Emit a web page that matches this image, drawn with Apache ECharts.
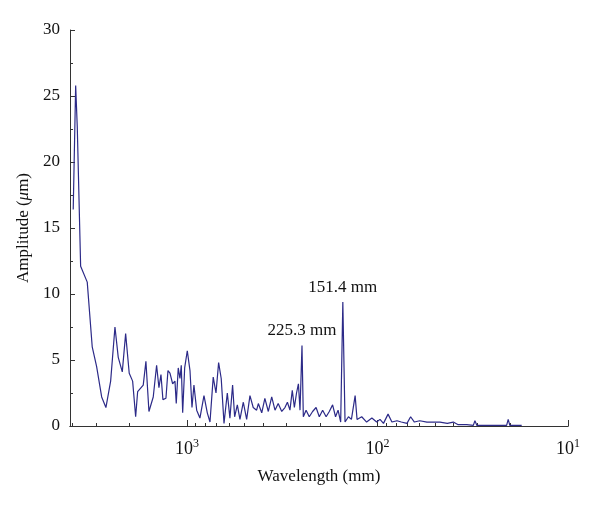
<!DOCTYPE html>
<html>
<head>
<meta charset="utf-8">
<script src="https://cdn.jsdelivr.net/npm/echarts@6/dist/echarts.min.js"></script>
<style>html,body{margin:0;padding:0;background:#fff}#container{width:600px;height:506px}</style>
</head>
<body>
<div id="container"></div>
<script>
// wavelength (mm) and amplitude (um)
var wavelength = [3953,3838,3765,3614,3337,3142,2979,2803,2663,2515,2387,2294,2185,2098,2009,1928,1859,1815,1696,1642,
    1583,1503,1443,1403,1369,1337,1289,1258,1228,1189,1156,1138,1111,1088,1071,1053,1028,996,964,941,
    919,889,855,814,782,757,728,704,682,661,639,614,595,576,562,544,527,506,486,467,
    449,431,422,405,390,374,359,345,332,318,306,297,288,280,273,266,260,255,249,245,
    237,228,219,210,202,194,186,179,172,166,161,156,152,148,142,137,131,128,121,114,
    107,101,97,93,88,84,79,75,70,67,64,60,55,51,47,43,40,37.7,34,31.4,
    30.8,30.1,25.7,21,20.6,20.2,17.5];
var amplitude = [16.4,25.8,22.7,12.1,10.9,6.0,4.5,2.2,1.4,3.4,7.5,5.2,4.1,7.0,4.0,3.4,0.7,2.6,3.1,4.9,
    1.1,2.2,4.6,2.9,3.9,2.0,2.1,4.2,4.0,3.2,3.4,1.7,4.4,3.6,4.6,1.0,4.4,5.7,4.2,1.4,
    3.1,1.2,0.6,2.3,1.0,0.3,3.7,2.5,4.8,3.6,0.2,2.5,0.6,3.1,0.7,1.6,0.5,1.8,0.5,2.3,
    1.4,1.2,1.7,1.0,2.1,1.1,2.2,1.2,1.7,1.1,1.4,1.8,1.2,2.7,1.4,2.5,3.2,1.2,6.1,0.7,
    1.2,0.7,1.1,1.4,0.7,1.2,0.7,1.1,1.6,0.7,1.2,0.3,9.4,0.3,0.7,0.5,2.3,0.5,0.7,0.3,
    0.6,0.3,0.5,0.2,0.9,0.3,0.4,0.3,0.2,0.7,0.3,0.4,0.3,0.3,0.3,0.2,0.3,0.1,0.1,0.05,
    0.4,0.05,0.05,0.05,0.5,0.05,0.05];
var peakLabels = [{wl: 249, amp: 6.1, text: '225.3 mm'}, {wl: 152, amp: 9.4, text: '151.4 mm'}];
var xMin = 10, xMax = 4110;

var lg = Math.log10;
var seriesData = wavelength.map(function (w, i) { return [lg(w), amplitude[i]]; });
var minorTicks = [];
for (var e = 1; e <= 3; e++) {
    for (var m = 2; m <= 9; m++) {
        var v = m * Math.pow(10, e);
        if (v < xMax) minorTicks.push(lg(v));
    }
}
var font = '"Liberation Serif", "DejaVu Serif", serif';
var txt = '#111';
var myChart = echarts.init(document.getElementById('container'));
var base = {
    type: 'value', min: lg(xMin), max: lg(xMax), inverse: true,
    splitLine: {show: false},
    axisLine: {lineStyle: {color: '#333', width: 1}}
};
option = {
    animation: false,
    grid: {left: 70, right: 32, top: 30, bottom: 80},
    xAxis: [
        Object.assign({}, base, {
            interval: 1,
            name: 'Wavelength (mm)', nameLocation: 'middle', nameGap: 42,
            nameTextStyle: {fontFamily: font, fontSize: 17, color: txt},
            axisTick: {inside: true, length: 6, lineStyle: {color: '#333'}},
            axisLabel: {
                showMaxLabel: false, margin: 12,
                formatter: function (v) { return '{b|10}{s|' + Math.round(v) + '}'; },
                rich: {
                    b: {fontFamily: font, fontSize: 18, color: txt},
                    s: {fontFamily: font, fontSize: 12, color: txt, verticalAlign: 'bottom', padding: [0, 0, 10, 0]}
                }
            }
        }),
        Object.assign({}, base, {
            position: 'bottom',
            axisLabel: {show: false},
            axisTick: {inside: true, length: 3, customValues: minorTicks, lineStyle: {color: '#333'}}
        })
    ],
    yAxis: {
        type: 'value', min: 0, max: 30, interval: 5,
        name: '{n|Amplitude (}{i|μ}{n|m)}', nameLocation: 'middle', nameGap: 34,
        nameTextStyle: {rich: {
            n: {fontFamily: font, fontSize: 17, color: txt},
            i: {fontFamily: font, fontSize: 17, color: txt, fontStyle: 'italic'}
        }},
        splitLine: {show: false},
        axisLine: {show: true, lineStyle: {color: '#333'}},
        axisTick: {inside: true, length: 5, lineStyle: {color: '#333'}},
        minorTick: {show: true, splitNumber: 2, length: 3, lineStyle: {color: '#333'}},
        axisLabel: {fontFamily: font, fontSize: 17, color: txt, margin: 10}
    },
    series: [{
        type: 'line', data: seriesData, symbol: 'none',
        lineStyle: {color: '#2c2a88', width: 1.2},
        markPoint: {
            symbol: 'circle', symbolSize: 0,
            data: peakLabels.map(function (p) {
                return {coord: [lg(p.wl), p.amp], value: p.text,
                    label: {show: true, position: 'top', distance: 6, formatter: p.text,
                        fontFamily: font, fontSize: 17, color: txt}};
            })
        }
    }]
};
myChart.setOption(option);
</script>
</body>
</html>
